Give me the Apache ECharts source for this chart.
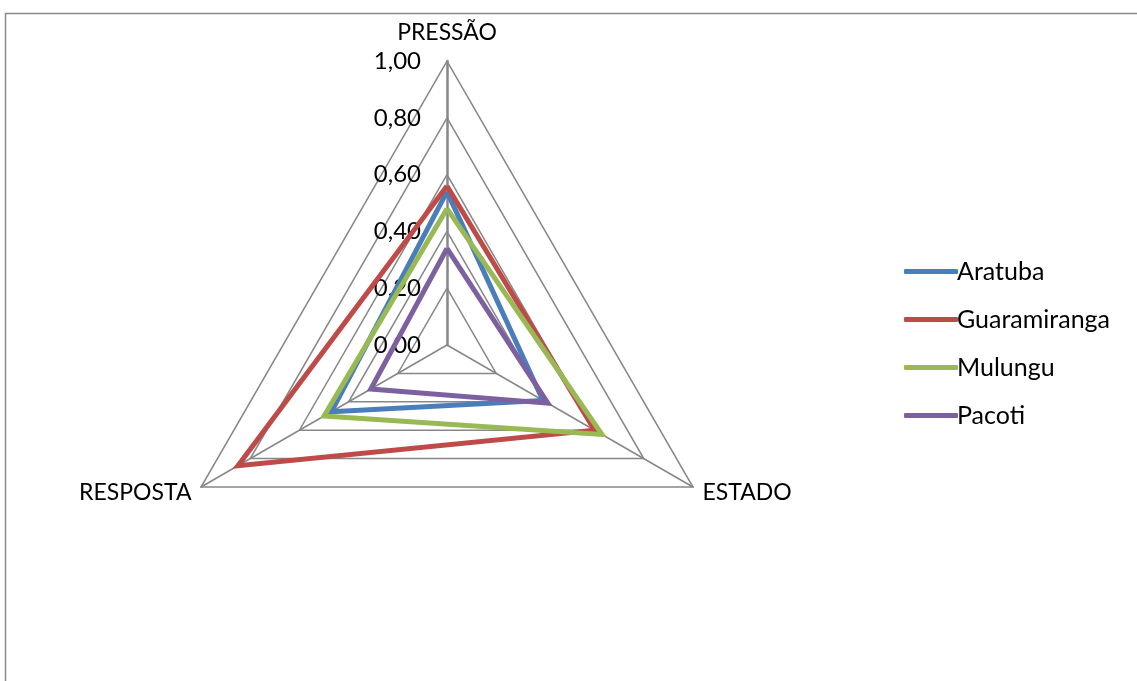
<!DOCTYPE html>
<html>
<head>
<meta charset="utf-8">
<title>Radar PER</title>
<script src="https://cdn.jsdelivr.net/npm/echarts@6/dist/echarts.min.js"></script>
<style>
  html, body { margin: 0; padding: 0; background: #ffffff; }
  #chart { width: 1137px; height: 681px; }
</style>
</head>
<body>
<div id="chart"></div>
<script>
// Indicator dimensions (counterclockwise from the top)
const indicators = ['PRESSÃO', 'RESPOSTA', 'ESTADO'];

// Index values per municipality, same order as the indicators
const aratuba      = [0.54, 0.47, 0.39];
const guaramiranga = [0.56, 0.85, 0.60];
const mulungu      = [0.48, 0.50, 0.63];
const pacoti       = [0.34, 0.31, 0.41];

const seriesNames  = ['Aratuba', 'Guaramiranga', 'Mulungu', 'Pacoti'];
const seriesValues = [aratuba, guaramiranga, mulungu, pacoti];
const seriesColors = ['#4A7EBB', '#BE4B48', '#98B954', '#7D60A0'];

const FONT = 'Lato';
const GRID = '#878787';

const chart = echarts.init(document.getElementById('chart'), null, { renderer: 'canvas' });

const indicatorOpts = indicators.map((name, i) => {
  const o = { name: name, min: 0, max: 1 };
  if (i === 0) {
    // value labels only on the vertical axis
    o.axisLabel = {
      show: true,
      color: '#000',
      fontFamily: FONT,
      fontSize: 24,
      margin: 26,
      formatter: v => v.toFixed(2).replace('.', ',')
    };
    o.axisLine = { lineStyle: { color: GRID, width: 2.5 } };
  }
  return o;
});

chart.setOption({
  animation: false,
  backgroundColor: '#ffffff',
  graphic: [{
    type: 'rect',
    shape: { x: 5.5, y: 13.5, width: 1200, height: 800 },
    style: { fill: 'none', stroke: '#8a8a8a', lineWidth: 1.5 },
    silent: true,
    z: -1
  }],
  legend: {
    orient: 'vertical',
    left: 899,
    top: 254,
    icon: 'roundRect',
    itemWidth: 54,
    itemHeight: 5,
    itemGap: 23,
    textStyle: { fontFamily: FONT, fontSize: 25, color: '#000', padding: [0, 0, 0, -6] },
    data: seriesNames
  },
  radar: {
    center: [447, 345],
    radius: 284,
    startAngle: 90,
    splitNumber: 5,
    shape: 'polygon',
    indicator: indicatorOpts,
    axisName: {
      color: '#000',
      fontFamily: FONT,
      fontSize: 23,
      // the top name sits a little higher above its vertex
      formatter: name => (name === indicators[0] ? '{top|' + name + '}' : name),
      rich: {
        top: { fontFamily: FONT, fontSize: 23, color: '#000', padding: [0, 0, 6, 0] }
      }
    },
    nameGap: 11,
    axisLine: { show: true, lineStyle: { color: GRID, width: 1.5 } },
    splitLine: { show: true, lineStyle: { color: GRID, width: 1.5 } },
    splitArea: { show: false },
    axisTick: { show: false },
    axisLabel: { show: false }
  },
  series: [{
    type: 'radar',
    symbol: 'none',
    data: seriesNames.map((n, i) => ({
      name: n,
      value: seriesValues[i],
      lineStyle: { color: seriesColors[i], width: 5, join: 'miter' },
      itemStyle: { color: seriesColors[i] }
    }))
  }]
});
</script>
</body>
</html>
